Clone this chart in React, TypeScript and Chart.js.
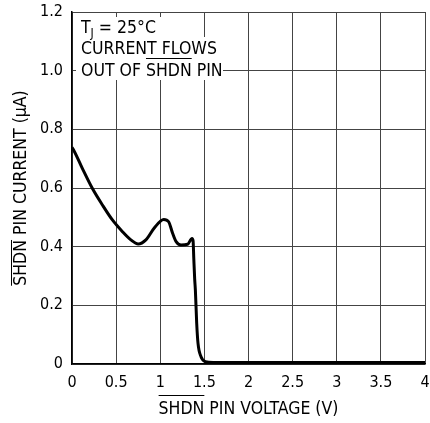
import React, { useEffect, useRef } from "react";
import { Chart, registerables } from "chart.js";

Chart.register(...registerables);

const voltage = [0, 0.01, 0.117, 0.23, 0.345, 0.458, 0.572, 0.667, 0.75, 0.837, 0.93, 1.04, 1.095, 1.14, 1.18, 1.235, 1.31, 1.36, 1.372, 1.38, 1.39, 1.398, 1.413, 1.428, 1.462, 1.511, 1.6, 2, 3, 4];
const current = [0.738, 0.734, 0.667, 0.599, 0.542, 0.491, 0.451, 0.423, 0.409, 0.423, 0.463, 0.493, 0.485, 0.446, 0.417, 0.406, 0.408, 0.428, 0.42, 0.36, 0.29, 0.252, 0.139, 0.07, 0.025, 0.008, 0.005, 0.005, 0.005, 0.005];

const xTicks = [0, 0.5, 1, 1.5, 2, 2.5, 3, 3.5, 4];
const yTicks = [0, 0.2, 0.4, 0.6, 0.8, 1.0, 1.2];

const xTitleRest = " PIN VOLTAGE (V)";
const yTitleRest = " PIN CURRENT (\u00b5A)";
const barred = "SHDN";
const noteLine1 = ["T", "J", " = 25\u00b0C"];
const noteLine2 = "CURRENT FLOWS";
const noteLine3 = ["OUT OF ", "SHDN", " PIN"];

const FONT = "'DejaVu Sans Condensed', 'Liberation Sans Narrow', 'Liberation Sans', Arial, sans-serif";

const textPlugin = {
  id: "texts",
  afterDraw(chart: any) {
    const ctx = chart.ctx as CanvasRenderingContext2D;
    const area = chart.chartArea;
    ctx.save();
    ctx.fillStyle = "#ffffff";
    ctx.fillRect(area.left + 4, 17, 92, 21);
    ctx.fillRect(area.left + 4, 37, 142, 22);
    ctx.fillRect(area.left + 4, 58, 147, 22);

    ctx.fillStyle = "#000";
    ctx.strokeStyle = "#000";
    ctx.textBaseline = "alphabetic";
    ctx.textAlign = "left";
    const f = (s: number) => `${s}px ${FONT}`;
    let x = area.left + 9;
    ctx.font = f(17.5);
    ctx.fillText(noteLine1[0], x, 33);
    x += ctx.measureText(noteLine1[0]).width;
    ctx.font = f(12);
    ctx.fillText(noteLine1[1], x, 37);
    x += ctx.measureText(noteLine1[1]).width;
    ctx.font = f(17.5);
    ctx.fillText(noteLine1[2], x, 33);

    ctx.fillText(noteLine2, area.left + 9, 54);

    x = area.left + 9;
    ctx.fillText(noteLine3[0], x, 76);
    x += ctx.measureText(noteLine3[0]).width;
    const w = ctx.measureText(noteLine3[1]).width;
    ctx.fillText(noteLine3[1], x, 76);
    ctx.lineWidth = 1;
    ctx.beginPath();
    ctx.moveTo(x, 58.5);
    ctx.lineTo(x + w, 58.5);
    ctx.stroke();
    x += w;
    ctx.fillText(noteLine3[2], x, 76);

    // x title
    ctx.font = f(17.5);
    const xw1 = ctx.measureText(barred).width;
    const xw2 = ctx.measureText(xTitleRest).width;
    const cx = (area.left + area.right) / 2;
    let sx = cx - (xw1 + xw2) / 2;
    ctx.fillText(barred, sx, 414);
    ctx.fillText(xTitleRest, sx + xw1, 414);
    ctx.beginPath();
    ctx.moveTo(sx, 395.5);
    ctx.lineTo(sx + xw1, 395.5);
    ctx.stroke();

    // y title
    ctx.save();
    ctx.translate(26, (area.top + area.bottom) / 2);
    ctx.rotate(-Math.PI / 2);
    const yw1 = ctx.measureText(barred).width;
    const yw2 = ctx.measureText(yTitleRest).width;
    sx = -(yw1 + yw2) / 2;
    ctx.fillText(barred, sx, 0);
    ctx.fillText(yTitleRest, sx + yw1, 0);
    ctx.beginPath();
    ctx.moveTo(sx, -14.5);
    ctx.lineTo(sx + yw1, -14.5);
    ctx.stroke();
    ctx.restore();

    ctx.restore();
  },
};

export default function App() {
  const ref = useRef<HTMLCanvasElement>(null);
  useEffect(() => {
    document.body.style.margin = "0";
    const canvas = ref.current!;
    const chart = new Chart(canvas, {
      type: "line",
      data: {
        datasets: [
          {
            data: voltage.map((v, i) => ({ x: v, y: current[i] })),
            borderColor: "#000",
            borderWidth: 3,
            pointRadius: 0,
            cubicInterpolationMode: "monotone",
            fill: false,
          },
        ],
      },
      options: {
        animation: false,
        responsive: false,
        maintainAspectRatio: false,
        layout: { padding: { top: 12, right: 5, left: 0, bottom: 0 } },
        plugins: { legend: { display: false }, tooltip: { enabled: false } },
        scales: {
          x: {
            type: "linear",
            min: 0,
            max: 4,
            afterFit: (s: any) => {
              s.height = 59;
              s.paddingLeft = 0;
              s.paddingRight = 0;
            },
            afterBuildTicks: (s: any) => { s.ticks = xTicks.map((v) => ({ value: v })); },
            grid: { color: "#444", lineWidth: 1, drawTicks: false },
            border: { color: "#000", width: 1.5 },
            ticks: {
              color: "#000",
              font: { family: FONT, size: 16 },
              padding: 9,
              maxRotation: 0,
              callback: (v: any) => String(v),
            },
          },
          y: {
            type: "linear",
            min: 0,
            max: 1.2,
            afterFit: (s: any) => {
              s.width = 72;
              s.paddingTop = 0;
              s.paddingBottom = 0;
            },
            afterBuildTicks: (s: any) => { s.ticks = yTicks.map((v) => ({ value: v })); },
            grid: { color: "#444", lineWidth: 1, drawTicks: false },
            border: { color: "#000", width: 1.5 },
            ticks: {
              color: "#000",
              font: { family: FONT, size: 16 },
              padding: 9,
              callback: (v: any) => (v === 0 ? "0" : Number(v).toFixed(1)),
            },
          },
        },
      },
      plugins: [textPlugin],
    } as any);
    return () => chart.destroy();
  }, []);
  return <canvas ref={ref} width={430} height={423} style={{ display: "block" }} />;
}
